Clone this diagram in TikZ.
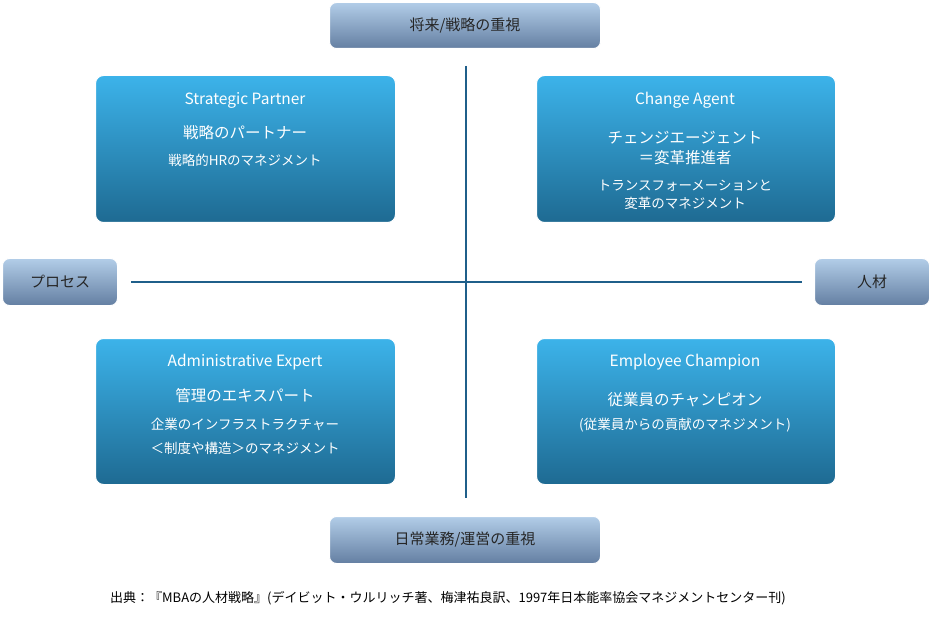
\documentclass[tikz,border=0pt]{standalone}
\usepackage{fontspec}
\setmainfont{Noto Sans CJK JP}
\begin{document}
\begin{tikzpicture}[x=1pt,y=-1pt,
 box/.style={draw=white,line width=1pt,rounded corners=8pt,top color=boxtop,bottom color=boxbot,anchor=north west,inner sep=0pt},
 lab/.style={draw=white,line width=1pt,rounded corners=7pt,top color=labtop,bottom color=labbot,anchor=north west,inner sep=0pt,font=\fontsize{15}{15}\selectfont,text=black!85},
 t/.style={text=white,font=\fontsize{15.5}{16}\selectfont,align=center},
 s/.style={text=white,font=\fontsize{13.5}{14}\selectfont,align=center},
 ax/.style={draw=axis,line width=1.6pt}]
\definecolor{boxtop}{HTML}{3CB3EA}
\definecolor{boxbot}{HTML}{1E6A92}
\definecolor{labtop}{HTML}{B2CDE8}
\definecolor{labbot}{HTML}{647FA2}
\definecolor{axis}{HTML}{1F5F8A}
\useasboundingbox[fill=white] (0,0) rectangle (931,636);
\coordinate (vt) at (466,66); \coordinate (vb) at (466,498);
\coordinate (hl) at (131,282); \coordinate (hr) at (802,282);
\draw[ax] (vt) -- (vb);
\draw[ax] (hl) -- (hr);
\node[box,minimum width=300,minimum height=147] (tl) at (95,75) {};
\node[box,minimum width=299,minimum height=147] (tr) at (536,75) {};
\node[box,minimum width=300,minimum height=146] (bl) at (95,338) {};
\node[box,minimum width=299,minimum height=146] (br) at (536,338) {};
\node[lab,minimum width=271,minimum height=46] (top) at (329,2) {将来/戦略の重視};
\node[lab,minimum width=271,minimum height=47] (bot) at (329,516) {日常業務/運営の重視};
\node[lab,minimum width=115,minimum height=47] (left) at (2,258) {プロセス};
\node[lab,minimum width=115,minimum height=47] (right) at (814,258) {人材};
\node[t] (tl1) at (245,100) {Strategic Partner};
\node[t] (tl2) at (245,133) {戦略のパートナー};
\node[s] (tl3) at (245,160) {戦略的HRのマネジメント};
\node[t] (tr1) at (685,100) {Change Agent};
\node[t,font=\fontsize{15.5}{20}\selectfont] (tr2) at (685,148) {チェンジエージェント\\＝変革推進者};
\node[s,font=\fontsize{13.5}{18}\selectfont] (tr3) at (685,195) {トランスフォーメーションと\\変革のマネジメント};
\node[t] (bl1) at (245,362) {Administrative Expert};
\node[t] (bl2) at (245,396) {管理のエキスパート};
\node[s,font=\fontsize{13.5}{24}\selectfont] (bl3) at (245,436) {企業のインフラストラクチャー\\＜制度や構造＞のマネジメント};
\node[t] (br1) at (685,362) {Employee Champion};
\node[t] (br2) at (685,400) {従業員のチャンピオン};
\node[s] (br3) at (685,425) {(従業員からの貢献のマネジメント)};
\node[font=\fontsize{13}{14}\selectfont] (cap) at (448,598) {出典：『MBAの人材戦略』(デイビット・ウルリッチ著、梅津祐良訳、1997年日本能率協会マネジメントセンター刊)};
\end{tikzpicture}
\end{document}
